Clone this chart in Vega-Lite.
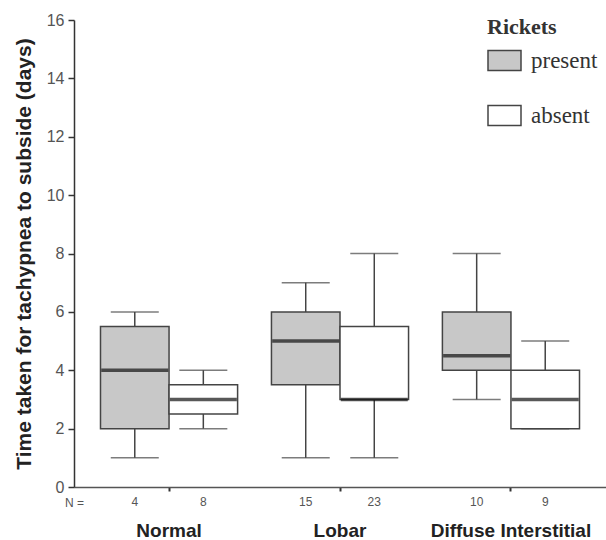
{
  "$schema": "https://vega.github.io/schema/vega-lite/v6.json",
  "width": 606,
  "height": 540,
  "autosize": {"type": "fit", "contains": "padding"},
  "padding": {"left": 13, "top": 12, "right": 0, "bottom": 0},
  "background": "white",
  "data": {
    "values": [
      {"group": "Normal", "rickets": "present", "n": 4, "min": 1, "q1": 2, "median": 4, "q3": 5.5, "max": 6},
      {"group": "Normal", "rickets": "absent", "n": 8, "min": 2, "q1": 2.5, "median": 3, "q3": 3.5, "max": 4},
      {"group": "Lobar", "rickets": "present", "n": 15, "min": 1, "q1": 3.5, "median": 5, "q3": 6, "max": 7},
      {"group": "Lobar", "rickets": "absent", "n": 23, "min": 1, "q1": 3, "median": 3, "q3": 5.5, "max": 8},
      {"group": "Diffuse Interstitial", "rickets": "present", "n": 10, "min": 3, "q1": 4, "median": 4.5, "q3": 6, "max": 8},
      {"group": "Diffuse Interstitial", "rickets": "absent", "n": 9, "min": 2, "q1": 2, "median": 3, "q3": 4, "max": 5}
    ]
  },
  "encoding": {
    "x": {
      "field": "group", "type": "nominal",
      "sort": ["Normal", "Lobar", "Diffuse Interstitial"],
      "scale": {"paddingInner": 0.198, "paddingOuter": 0.155},
      "axis": {
        "title": "N =", "labelAngle": 0, "labelFont": "Liberation Sans", "labelFontSize": 19,
        "labelFontWeight": "bold", "labelColor": "#222", "labelPadding": 30, "tickSize": 4,
        "tickColor": "#333", "tickWidth": 2, "domainColor": "#555", "domainWidth": 1.5,
        "titleFont": "Liberation Sans", "titleFontSize": 12, "titleFontWeight": "normal",
        "titleColor": "#555", "titleX": 0, "titleY": 15, "titleAlign": "center", "titleBaseline": "middle"
      }
    },
    "xOffset": {
      "field": "rickets", "type": "nominal", "sort": ["present", "absent"],
      "scale": {"paddingInner": 0, "paddingOuter": 0}
    }
  },
  "layer": [
    {
      "mark": {"type": "rule", "color": "#444", "strokeWidth": 1.5},
      "encoding": {
        "y": {
          "field": "min", "type": "quantitative", "scale": {"domain": [0, 16], "nice": false},
          "title": "Time taken for tachypnea to subside  (days)",
          "axis": {"values": [0, 2, 4, 6, 8, 10, 12, 14, 16]}
        },
        "y2": {"field": "max"}
      }
    },
    {
      "mark": {"type": "bar", "stroke": "#444", "strokeWidth": 1.5},
      "encoding": {
        "y": {"field": "q1", "type": "quantitative", "title": "Time taken for tachypnea to subside  (days)", "axis": {"values": [0, 2, 4, 6, 8, 10, 12, 14, 16]}},
        "y2": {"field": "q3"},
        "fill": {
          "field": "rickets", "type": "nominal",
          "scale": {"domain": ["present", "absent"], "range": ["#c8c8c8", "#ffffff"]},
          "legend": {
            "title": "Rickets", "orient": "none", "legendX": 413, "legendY": -3, "padding": 0,
            "titleFont": "Liberation Serif", "titleFontSize": 22, "titleFontWeight": "bold", "titleColor": "#333",
            "titlePadding": 4,
            "labelFont": "Liberation Serif", "labelFontSize": 23, "labelColor": "#333", "labelOffset": 9,
            "symbolType": "M-1,-0.6H1V0.6H-1Z", "symbolSize": 1089,
            "symbolStrokeColor": "#444", "symbolStrokeWidth": 1.5, "rowPadding": 24
          }
        }
      }
    },
    {
      "mark": {"type": "tick", "color": "#444", "size": 48, "thickness": 1.5},
      "encoding": {"y": {"field": "min", "type": "quantitative", "title": "Time taken for tachypnea to subside  (days)", "axis": {"values": [0, 2, 4, 6, 8, 10, 12, 14, 16]}}}
    },
    {
      "mark": {"type": "tick", "color": "#444", "size": 48, "thickness": 1.5},
      "encoding": {"y": {"field": "max", "type": "quantitative", "title": "Time taken for tachypnea to subside  (days)", "axis": {"values": [0, 2, 4, 6, 8, 10, 12, 14, 16]}}}
    },
    {
      "mark": {"type": "tick", "color": "#111", "size": 67, "thickness": 3.5},
      "encoding": {"y": {"field": "median", "type": "quantitative", "title": "Time taken for tachypnea to subside  (days)", "axis": {"values": [0, 2, 4, 6, 8, 10, 12, 14, 16]}}}
    },
    {
      "mark": {"type": "text", "font": "Liberation Sans", "fontSize": 12, "color": "#555", "dy": 15, "baseline": "middle"},
      "encoding": {
        "y": {"datum": 0, "type": "quantitative"},
        "text": {"field": "n", "type": "quantitative"}
      }
    }
  ],
  "config": {
    "view": {"stroke": null},
    "axisY": {
      "grid": false, "tickSize": 6, "labelPadding": 4,
      "labelFont": "Liberation Sans", "labelFontSize": 16, "labelColor": "#555",
      "titleFont": "Liberation Sans", "titleFontSize": 21, "titleFontWeight": "bold", "titleColor": "#222",
      "titlePadding": 12, "domainColor": "#333", "tickColor": "#333", "domainWidth": 1.5, "tickWidth": 1.5
    }
  }
}
